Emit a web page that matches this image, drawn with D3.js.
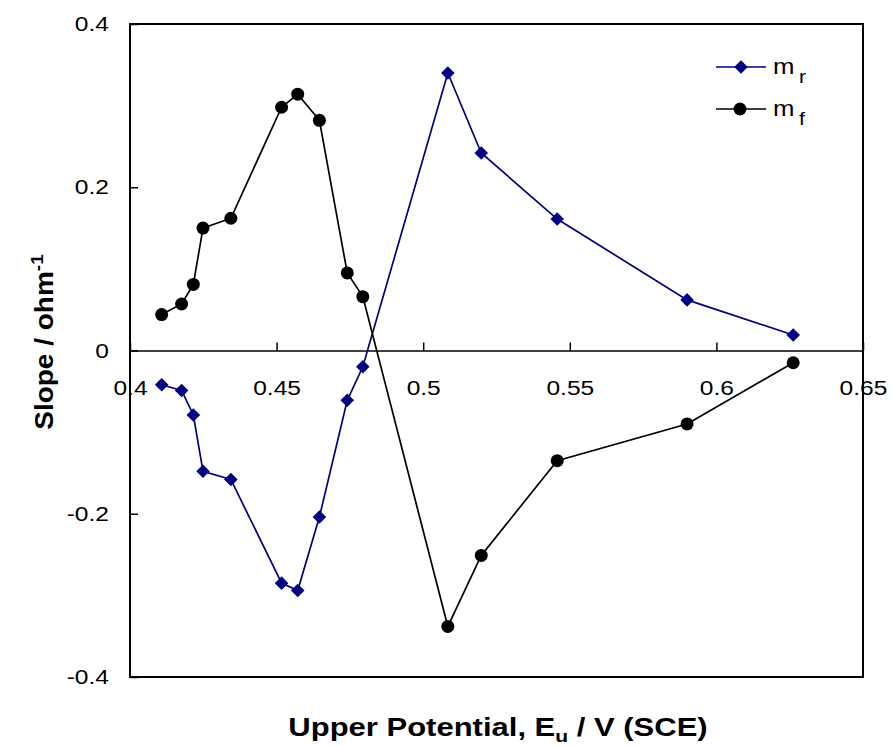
<!DOCTYPE html>
<html>
<head>
<meta charset="utf-8">
<script src="https://cdn.jsdelivr.net/npm/d3@7"></script>
<style>
  body { margin: 0; background: #fff; }
  text { font-family: "Liberation Sans", Arial, sans-serif; }
</style>
</head>
<body>
<div id="chart"></div>
<script>
// potential values (V) shared by both series
var potential = [0.4108, 0.4176, 0.4216, 0.4249, 0.4344, 0.4517, 0.4572, 0.4646,
  0.4741, 0.4794, 0.5084, 0.5198, 0.5457, 0.590, 0.6262];
var mr = [-0.042, -0.049, -0.079, -0.148, -0.158, -0.285, -0.294, -0.204,
  -0.061, -0.020, 0.340, 0.242, 0.161, 0.062, 0.019];
var mf = [0.044, 0.057, 0.081, 0.150, 0.162, 0.298, 0.314, 0.282,
  0.095, 0.066, -0.338, -0.251, -0.135, -0.090, -0.015];
var xTicks = [0.4, 0.45, 0.5, 0.55, 0.6, 0.65];
var yTicks = [-0.4, -0.2, 0, 0.2, 0.4];

var width = 893, height = 746;
var margin = { left: 130, right: 30, top: 24, bottom: 69 };
var sx = 1.17; // horizontal stretch of the text in the picture

var svg = d3.select("#chart").append("svg")
  .attr("width", width)
  .attr("height", height);

var x = d3.scaleLinear().domain([0.4, 0.65]).range([margin.left, width - margin.right]);
var y = d3.scaleLinear().domain([-0.4, 0.4]).range([height - margin.bottom, margin.top]);

//x axis sits on the zero line, ticks point up
var xAxis = svg.append("g")
  .attr("transform", "translate(0," + y(0) + ")")
  .call(d3.axisBottom(x).tickValues(xTicks).tickSize(-8).tickSizeOuter(0)
    .tickPadding(30).tickFormat(function (d) { return String(d); }));
xAxis.select(".domain").attr("stroke-width", 1.5);
xAxis.selectAll(".tick line").attr("stroke-width", 1.5);
xAxis.selectAll(".tick text")
  .style("font-size", "21px")
  .attr("fill", "#000")
  .attr("transform", "scale(" + sx + ",1)");

var yAxis = svg.append("g")
  .attr("transform", "translate(" + margin.left + ",0)")
  .call(d3.axisLeft(y).tickValues(yTicks).tickSize(-8).tickSizeOuter(0)
    .tickPadding(21).tickFormat(function (d) { return String(d); }));
yAxis.select(".domain").remove();
yAxis.selectAll(".tick line").attr("stroke-width", 1.5);
yAxis.selectAll(".tick text")
  .style("font-size", "21px")
  .attr("fill", "#000")
  .attr("x", -21 / sx)
  .attr("transform", "scale(" + sx + ",1)");

//plot frame
svg.append("rect")
  .attr("x", x(0.4)).attr("y", y(0.4))
  .attr("width", x(0.65) - x(0.4)).attr("height", y(-0.4) - y(0.4))
  .attr("fill", "none").attr("stroke", "#000").attr("stroke-width", 2);

var line = d3.line()
  .x(function (d) { return x(d[0]); })
  .y(function (d) { return y(d[1]); });

var blue = "#000080";
var rData = potential.map(function (p, i) { return [p, mr[i]]; });
var fData = potential.map(function (p, i) { return [p, mf[i]]; });

svg.append("path").datum(rData).attr("d", line)
  .attr("fill", "none").attr("stroke", blue).attr("stroke-width", 1.7);
svg.append("path").datum(fData).attr("d", line)
  .attr("fill", "none").attr("stroke", "#000").attr("stroke-width", 1.7);

var diamond = d3.symbol().type(d3.symbolSquare).size(92);

svg.append("g").selectAll("path")
  .data(rData).enter().append("path")
  .attr("d", diamond)
  .attr("fill", blue)
  .attr("transform", function (d) { return "translate(" + x(d[0]) + "," + y(d[1]) + ") rotate(45)"; });

svg.append("g").selectAll("circle")
  .data(fData).enter().append("circle")
  .attr("cx", function (d) { return x(d[0]); })
  .attr("cy", function (d) { return y(d[1]); })
  .attr("r", 6.5)
  .attr("fill", "#000");

//legend
var legend = [
  { name: "m", sub: "r", color: blue, ly: 67, type: "diamond" },
  { name: "m", sub: "f", color: "#000", ly: 109, type: "circle" }
];
var lg = svg.append("g").selectAll("g").data(legend).enter().append("g");
lg.append("line")
  .attr("x1", 716).attr("x2", 766)
  .attr("y1", function (d) { return d.ly; }).attr("y2", function (d) { return d.ly; })
  .attr("stroke", function (d) { return d.color; }).attr("stroke-width", 1.7);
lg.filter(function (d) { return d.type == "diamond"; }).append("path")
  .attr("d", diamond).attr("fill", blue)
  .attr("transform", function (d) { return "translate(741," + d.ly + ") rotate(45)"; });
lg.filter(function (d) { return d.type == "circle"; }).append("circle")
  .attr("cx", 740).attr("cy", function (d) { return d.ly; }).attr("r", 6.5).attr("fill", "#000");
var lt = lg.append("text")
  .attr("transform", function (d) { return "translate(773," + (d.ly + 7) + ") scale(1.12,1)"; })
  .style("font-size", "23px");
lt.append("tspan").text(function (d) { return d.name; });
lt.append("tspan").attr("dx", 4).attr("dy", 9).style("font-size", "19px")
  .text(function (d) { return d.sub; });

//axis titles
var xt = svg.append("text")
  .attr("transform", "translate(" + 498 + ",736) scale(1.24,1)")
  .attr("text-anchor", "middle")
  .style("font-size", "25px")
  .style("font-weight", "bold");
xt.append("tspan").text("Upper Potential, E");
xt.append("tspan").attr("dy", 6).style("font-size", "17px").text("u");
xt.append("tspan").attr("dy", -6).text(" / V (SCE)");

var yt = svg.append("text")
  .attr("transform", "translate(53,342) rotate(-90) scale(1.12,1)")
  .attr("text-anchor", "middle")
  .style("font-size", "25px")
  .style("font-weight", "bold");
yt.append("tspan").text("Slope / ohm");
yt.append("tspan").attr("dy", -10).style("font-size", "17px").text("-1");
</script>
</body>
</html>
